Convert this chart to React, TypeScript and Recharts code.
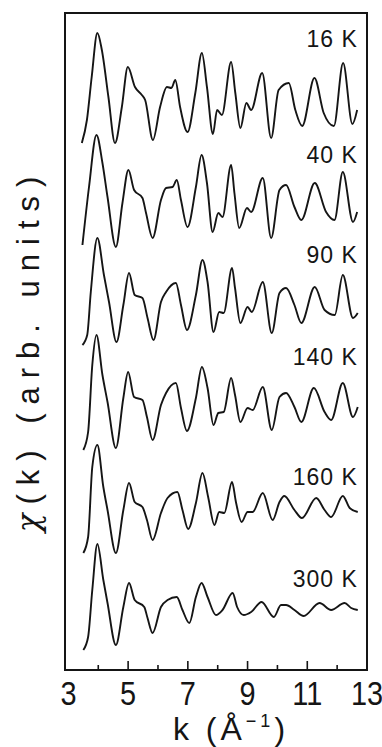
import { LineChart, Line, XAxis, YAxis, ReferenceArea, ReferenceDot } from "recharts";

// EXAFS chi(k) at several temperatures, stacked with vertical offsets
const TEMPS = ["16 K", "40 K", "90 K", "140 K", "160 K", "300 K"];
const OFFSETS = [57, 47, 37, 27, 17, 7];

const K_16 = [3.45, 3.62, 3.78, 3.97, 4.12, 4.34, 4.56, 4.79, 4.99, 5.23, 5.46, 5.57, 5.83, 6.07, 6.3, 6.45, 6.58, 6.74, 6.99, 7.25, 7.47, 7.64, 7.84, 7.98, 8.14, 8.45, 8.59, 8.76, 8.96, 9.12, 9.49, 9.79, 10.04, 10.38, 10.6, 10.83, 11.24, 11.55, 11.89, 12.2, 12.51, 12.67];
const CHI_16 = [-4.3, -2.0, 2.3, 6.7, 5.0, 0.3, -4.3, -0.7, 3.3, 1.3, 0.5, 0.0, -4.0, -0.7, 1.3, 1.2, 2.0, -0.7, -3.2, 0.7, 4.7, 1.3, -3.4, -1.0, -1.5, 3.8, 0.7, -2.8, -0.3, -1.0, 2.7, -3.8, 1.0, 1.7, -1.0, -2.6, 2.2, -1.3, -2.6, 3.7, -2.4, -1.0];

const K_40 = [3.47, 3.69, 3.94, 4.14, 4.31, 4.59, 4.81, 5.01, 5.2, 5.48, 5.6, 5.82, 6.1, 6.27, 6.49, 6.63, 6.77, 6.99, 7.27, 7.46, 7.64, 7.83, 8.02, 8.16, 8.45, 8.56, 8.72, 8.98, 9.12, 9.51, 9.79, 10.07, 10.29, 10.57, 10.8, 11.25, 11.63, 11.91, 12.19, 12.53, 12.67];
const CHI_40 = [-4.5, 1.3, 6.5, 3.7, 0.3, -4.7, -0.3, 3.0, 1.0, 0.2, -1.3, -3.8, 0.0, 1.2, 1.3, 2.0, 0.0, -2.7, 1.3, 4.5, 1.7, -3.2, -1.3, -1.7, 3.5, 0.7, -2.8, -0.8, -1.2, 2.2, -3.8, 1.0, 1.5, -0.7, -2.0, 1.7, -1.2, -2.0, 2.8, -2.2, -1.2];

const K_90 = [3.47, 3.63, 3.75, 3.97, 4.19, 4.36, 4.61, 4.84, 5.03, 5.22, 5.48, 5.65, 5.85, 6.1, 6.27, 6.6, 6.77, 6.97, 7.27, 7.49, 7.66, 7.86, 8.05, 8.2, 8.48, 8.58, 8.76, 9.0, 9.14, 9.51, 9.81, 10.07, 10.29, 10.57, 10.8, 11.25, 11.58, 11.92, 12.19, 12.53, 12.69];
const CHI_90 = [-4.5, -3.5, 0.8, 6.2, 2.5, -0.2, -4.2, -0.5, 2.7, 0.5, 0.2, -1.8, -4.0, -0.2, 0.8, 1.7, -0.5, -3.0, 0.5, 4.0, 1.8, -3.2, -1.2, -1.3, 3.2, 1.2, -2.3, -0.7, -1.2, 1.8, -3.3, 0.7, 1.2, -0.5, -2.3, 1.3, -1.0, -1.5, 2.5, -1.8, -1.3];

const K_140 = [3.5, 3.66, 3.8, 3.94, 4.14, 4.31, 4.59, 4.84, 5.0, 5.2, 5.48, 5.63, 5.82, 6.1, 6.27, 6.6, 6.77, 6.97, 7.27, 7.47, 7.66, 7.86, 8.02, 8.2, 8.45, 8.58, 8.76, 9.0, 9.17, 9.51, 9.81, 10.07, 10.29, 10.57, 10.8, 11.22, 11.58, 11.8, 12.19, 12.53, 12.69];
const CHI_140 = [-5.0, -3.2, 3.5, 6.5, 2.5, -0.2, -4.8, 0.2, 2.8, 0.3, 0.0, -1.7, -4.0, -0.5, 0.7, 1.7, -0.8, -3.1, 0.2, 3.3, 1.2, -2.5, -1.3, -1.2, 2.2, 0.5, -2.2, -0.8, -1.0, 1.3, -3.0, 0.3, 0.7, -0.7, -2.2, 1.2, -1.2, -2.0, 1.7, -1.7, -0.7];

const K_160 = [3.5, 3.66, 3.8, 3.97, 4.17, 4.31, 4.59, 4.84, 5.03, 5.22, 5.48, 5.63, 5.82, 6.1, 6.32, 6.65, 6.82, 7.01, 7.27, 7.49, 7.68, 7.89, 8.05, 8.22, 8.48, 8.61, 8.8, 9.0, 9.17, 9.51, 9.84, 10.07, 10.23, 10.57, 10.82, 11.3, 11.58, 11.8, 12.19, 12.42, 12.69];
const CHI_160 = [-5.3, -3.7, 3.3, 5.5, 1.3, -1.0, -5.3, -1.0, 1.7, -0.2, -0.7, -2.0, -4.0, -1.3, 0.2, 0.8, -1.0, -2.9, -0.3, 2.7, 0.3, -2.5, -1.2, -1.3, 1.8, -0.2, -2.2, -1.2, -1.2, 0.7, -2.0, -0.2, 0.4, -1.0, -1.8, 0.2, -1.0, -1.7, 0.4, -0.8, -1.2];

const K_300 = [3.5, 3.66, 3.8, 3.97, 4.17, 4.31, 4.59, 4.84, 5.03, 5.22, 5.54, 5.65, 5.82, 6.1, 6.32, 6.63, 6.82, 7.05, 7.27, 7.46, 7.66, 7.94, 8.16, 8.5, 8.65, 8.87, 9.12, 9.47, 9.88, 10.12, 10.29, 10.57, 10.88, 11.41, 11.8, 12.25, 12.47, 12.69];
const CHI_300 = [-5.0, -3.7, 1.0, 5.6, 2.0, -0.3, -4.5, -0.7, 1.7, 0.0, -0.7, -1.8, -3.3, -0.7, 0.0, 0.3, -1.0, -2.3, 0.3, 1.7, 0.3, -1.5, -1.0, 0.7, -0.7, -1.5, -1.2, -0.2, -1.7, -0.5, -0.5, -1.0, -1.6, -0.3, -1.0, -0.3, -0.8, -1.0];

const K_LIST = [K_16, K_40, K_90, K_140, K_160, K_300];
const CHI_LIST = [CHI_16, CHI_40, CHI_90, CHI_140, CHI_160, CHI_300];

const X_TICKS = [3, 4, 5, 6, 7, 8, 9, 10, 11, 12, 13];
const X_DOMAIN: [number, number] = [2.886, 13];
const Y_DOMAIN: [number, number] = [0, 65.7];

// where the temperature labels sit (right end, text baseline)
const LABEL_K = 12.69;
const LABEL_Y = [62.3, 50.7, 40.7, 30.5, 18.5, 8.3];

const INK = "#151515";
const FONT = "'Liberation Sans', Arial, sans-serif";

const series = TEMPS.map((t, i) => ({
  name: t,
  data: K_LIST[i].map((k, j) => ({ k, v: CHI_LIST[i][j] + OFFSETS[i] })),
}));

function KTick(props: any) {
  const { x, y, payload } = props;
  const v = payload.value as number;
  const edge = v === 3 || v === 13;
  const major = v % 2 === 1;
  return (
    <g>
      {!edge && (
        <line x1={x} x2={x} y1={y} y2={y - (major ? 9 : 5)} stroke={INK} strokeWidth={1.6} />
      )}
      {major && (
        <text
          transform={`translate(${x} ${y + 35}) scale(0.85 1)`}
          textAnchor="middle"
          fontSize={34}
          fontFamily={FONT}
          fill={INK}
        >
          {v}
        </text>
      )}
    </g>
  );
}

function TempLabel(text: string) {
  return (props: any) => {
    const { viewBox } = props;
    return (
      <text
        x={viewBox.x}
        y={viewBox.y}
        textAnchor="end"
        fontSize={23}
        letterSpacing={1}
        fontFamily={FONT}
        fill={INK}
      >
        {text}
      </text>
    );
  };
}

export default function App() {
  return (
    <div style={{ position: "absolute", left: 0, top: 0, width: 382, height: 747, background: "#fff" }}>
      <LineChart width={382} height={747} margin={{ top: 13, right: 15, left: 65, bottom: 37 }}>
        <XAxis
          type="number"
          dataKey="k"
          domain={X_DOMAIN}
          allowDataOverflow
          ticks={X_TICKS}
          interval={0}
          height={40}
          tickSize={0}
          tickMargin={0}
          tickLine={false}
          axisLine={{ stroke: INK, strokeWidth: 2 }}
          tick={<KTick />}
        />
        <YAxis type="number" dataKey="v" domain={Y_DOMAIN} allowDataOverflow hide />
        <ReferenceArea
          x1={X_DOMAIN[0]}
          x2={X_DOMAIN[1]}
          y1={Y_DOMAIN[0]}
          y2={Y_DOMAIN[1]}
          fill="none"
          stroke={INK}
          strokeWidth={2}
        />
        {series.map((s) => (
          <Line
            key={s.name}
            data={s.data}
            dataKey="v"
            type="monotone"
            stroke={INK}
            strokeWidth={1.9}
            dot={false}
            isAnimationActive={false}
          />
        ))}
        {TEMPS.map((t, i) => (
          <ReferenceDot
            key={t}
            x={LABEL_K}
            y={LABEL_Y[i]}
            r={0}
            fill="none"
            stroke="none"
            label={{ content: TempLabel(t) }}
          />
        ))}
      </LineChart>
      <div
        style={{
          position: "absolute",
          left: 28,
          top: 350,
          transform: "translate(-50%, -50%) rotate(-90deg)",
          whiteSpace: "nowrap",
          fontFamily: FONT,
          fontSize: 31,
          letterSpacing: 9,
          color: INK,
        }}
      >
        <span style={{ fontFamily: "'DejaVu Serif', serif", fontStyle: "italic" }}>χ</span>(k) (arb. units)
      </div>
      <div
        style={{
          position: "absolute",
          left: 231,
          top: 712,
          transform: "translateX(-50%)",
          whiteSpace: "nowrap",
          fontFamily: FONT,
          fontSize: 32,
          letterSpacing: 4,
          lineHeight: "34px",
          color: INK,
        }}
      >
        k (Å<sup style={{ fontSize: 18, verticalAlign: "top", lineHeight: "18px" }}>−1</sup>)
      </div>
    </div>
  );
}
